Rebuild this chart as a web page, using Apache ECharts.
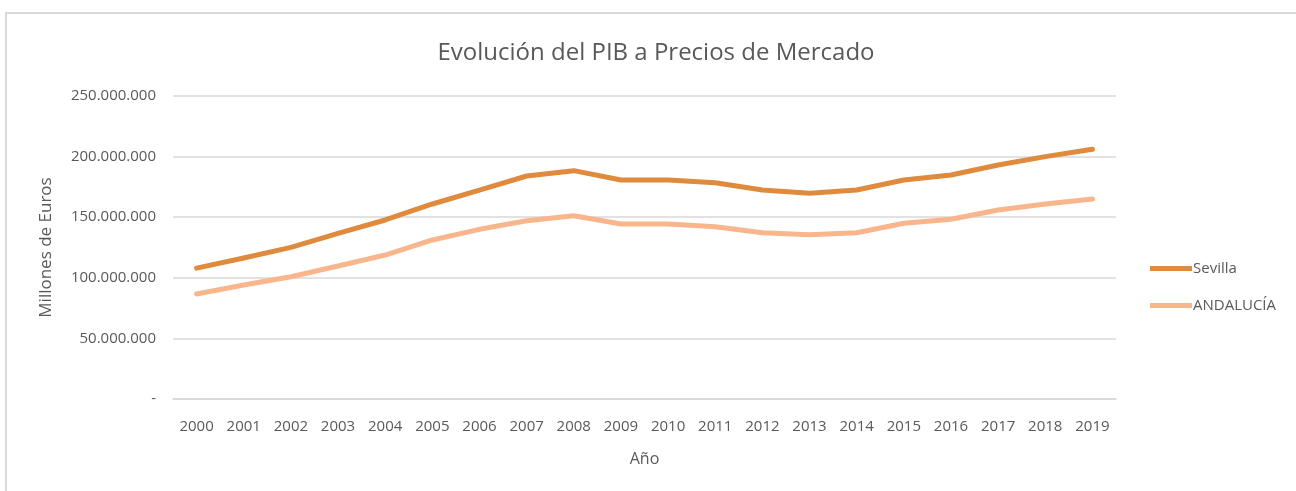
<!DOCTYPE html>
<html>
<head>
<meta charset="utf-8">
<script src="https://cdn.jsdelivr.net/npm/echarts@6/dist/echarts.min.js"></script>
<style>
  html, body { margin: 0; padding: 0; background: #ffffff; }
  #main { width: 1296px; height: 491px; }
</style>
</head>
<body>
<div id="main"></div>
<script>
// datos (euros)
const years = ['2000','2001','2002','2003','2004','2005','2006','2007','2008','2009',
               '2010','2011','2012','2013','2014','2015','2016','2017','2018','2019'];
const sevilla = [108000000, 116300000, 125100000, 136700000, 147700000, 160900000, 172400000, 184000000, 188400000, 180700000,
                 180700000, 178500000, 172400000, 169700000, 172400000, 180700000, 184800000, 193100000, 200000000, 206000000];
const andalucia = [86600000, 94000000, 100900000, 109700000, 118800000, 131200000, 140000000, 147100000, 151200000, 144400000,
                   144400000, 142200000, 137200000, 135600000, 137200000, 145000000, 148300000, 156000000, 160900000, 165000000];
const yTicks = [0, 50000000, 100000000, 150000000, 200000000, 250000000];

const font = 'Open Sans';
const txt = '#595959';

const fmt = (v) => {
    if (v === 0) return '-';
    return String(v).replace(/\B(?=(\d{3})+(?!\d))/g, '.');
};

const chart = echarts.init(document.getElementById('main'));
chart.setOption({
    animation: false,
    backgroundColor: '#ffffff',
    title: {
        text: 'Evolución del PIB a Precios de Mercado',
        left: 651,
        textAlign: 'center',
        top: 36,
        textStyle: { fontFamily: font, fontSize: 24, fontWeight: 'normal', color: txt }
    },
    graphic: [
        {
            type: 'rect',
            shape: { x: 6, y: 13, width: 1400, height: 600 },
            style: { fill: 'none', stroke: '#d9d9d9', lineWidth: 2 },
            silent: true
        }
    ],
    legend: {
        orient: 'vertical',
        left: 1145,
        top: 256,
        icon: 'rect',
        itemWidth: 42,
        itemHeight: 5,
        itemGap: 22,
        textStyle: { fontFamily: font, fontSize: 15, color: txt, padding: [0, 0, 0, -4] },
        data: ['Sevilla', 'ANDALUCÍA']
    },
    grid: { left: 173, right: 180, top: 96, bottom: 92 },
    xAxis: {
        type: 'category',
        data: years,
        boundaryGap: true,
        name: 'Año',
        nameLocation: 'middle',
        nameGap: 52,
        nameTextStyle: { fontFamily: font, fontSize: 16, color: txt },
        axisLine: { lineStyle: { color: '#d9d9d9', width: 1.5 } },
        axisTick: { show: false },
        axisLabel: { fontFamily: font, fontSize: 15, color: txt, margin: 20 }
    },
    yAxis: {
        type: 'value',
        min: 0,
        max: 250000000,
        interval: 50000000,
        name: 'Millones de Euros',
        nameLocation: 'middle',
        nameGap: 118,
        nameTextStyle: { fontFamily: font, fontSize: 17, color: txt },
        axisLine: { show: false },
        axisTick: { show: false },
        splitLine: { lineStyle: { color: '#d9d9d9', width: 1.5 } },
        axisLabel: { fontFamily: font, fontSize: 15, color: txt, margin: 17, formatter: fmt,
                     customValues: yTicks }
    },
    series: [
        {
            name: 'Sevilla',
            type: 'line',
            data: sevilla,
            symbol: 'none',
            lineStyle: { color: '#DF8A3C', width: 5, cap: 'round', join: 'round' },
            itemStyle: { color: '#DF8A3C' }
        },
        {
            name: 'ANDALUCÍA',
            type: 'line',
            data: andalucia,
            symbol: 'none',
            lineStyle: { color: '#F9B68D', width: 5, cap: 'round', join: 'round' },
            itemStyle: { color: '#F9B68D' }
        }
    ]
});
</script>
</body>
</html>
